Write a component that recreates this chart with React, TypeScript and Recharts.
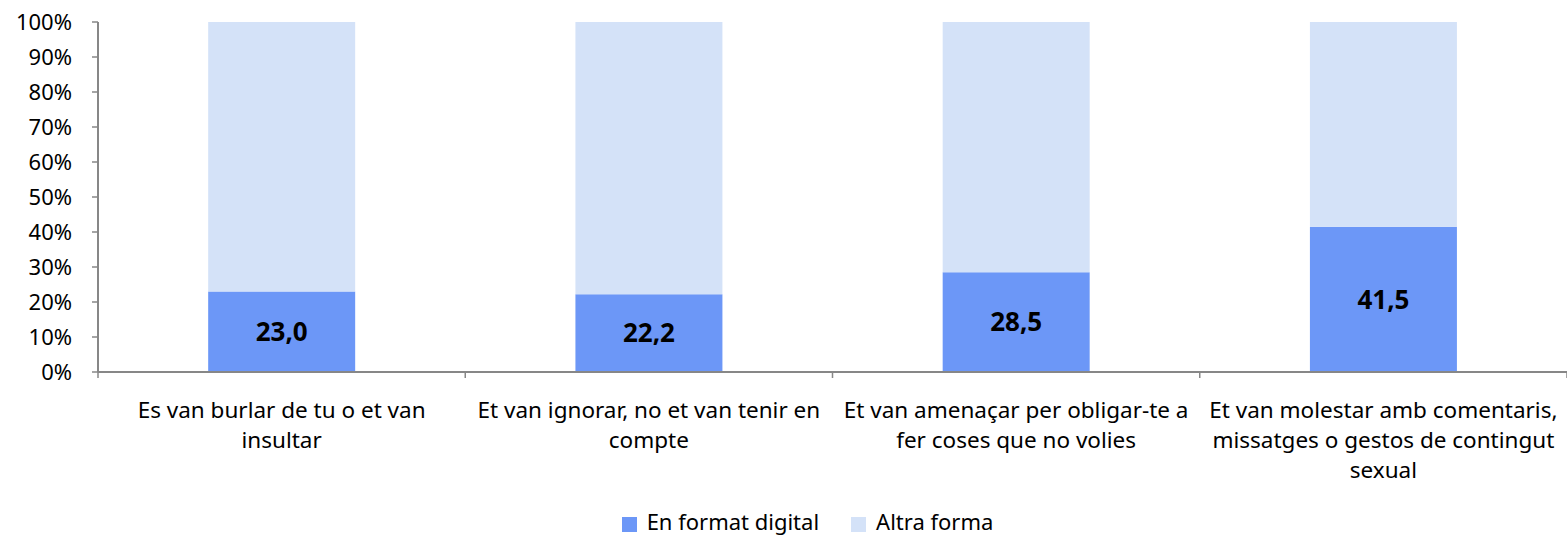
import React from "react";
import { BarChart, Bar, XAxis, YAxis, Legend, LabelList } from "recharts";

// Categories (lines as they wrap in the original)
const categories = [
  ["Es van burlar de tu o et van", "insultar"],
  ["Et van ignorar, no et van tenir en", "compte"],
  ["Et van amenaçar per obligar-te a", "fer coses que no volies"],
  ["Et van molestar amb comentaris,", "missatges o gestos de contingut", "sexual"],
];
const digital = [23.0, 22.2, 28.5, 41.5];
const altra = [77.0, 77.8, 71.5, 58.5];
const seriesNames = ["En format digital", "Altra forma"];
const yTicks = [0, 10, 20, 30, 40, 50, 60, 70, 80, 90, 100];

const data = categories.map((lines, i) => ({
  name: lines.join(" "),
  lines,
  digital: digital[i],
  altra: altra[i],
}));

const FONT = "'Noto Sans', sans-serif";
const AXIS = "#878787";
const WIDTH = 1567;
const HEIGHT = 539;
const MARGIN = { top: 22, right: 0, left: 0, bottom: 0 };
const Y_WIDTH = 98;
const BAND = (WIDTH - Y_WIDTH - MARGIN.right) / categories.length;

const CategoryTick = (props: any) => {
  const { x, y, payload, index } = props;
  const item = data[payload.index ?? index];
  const lines = item ? item.lines : [String(payload.value)];
  return (
    <g>
      {index === 0 && (
        <line x1={x - BAND / 2} y1={y - 8} x2={x - BAND / 2} y2={y - 2} stroke={AXIS} strokeWidth={1.5} />
      )}
      <line x1={x + BAND / 2} y1={y - 8} x2={x + BAND / 2} y2={y - 2} stroke={AXIS} strokeWidth={1.5} />
      <text x={x} y={y + 38} textAnchor="middle" fontFamily={FONT} fontSize={22.5} fill="#000">
        {lines.map((l: string, i: number) => (
          <tspan key={i} x={x} dy={i === 0 ? 0 : 30}>
            {l}
          </tspan>
        ))}
      </text>
    </g>
  );
};

const App = () => {
  return (
    <div style={{ position: "absolute", left: 0, top: 0, background: "#fff" }}>
      <BarChart
        width={WIDTH}
        height={HEIGHT}
        data={data}
        margin={MARGIN}
        barCategoryGap="30%"
      >
        <XAxis
          dataKey="name"
          tick={<CategoryTick />}
          tickLine={false}
          axisLine={{ stroke: AXIS, strokeWidth: 2 }}
          interval={0}
          height={137}
        />
        <YAxis
          domain={[0, 100]}
          ticks={yTicks}
          tickFormatter={(v: number) => `${v}%`}
          width={Y_WIDTH}
          tickSize={6}
          tickMargin={20}
          interval={0}
          axisLine={{ stroke: AXIS, strokeWidth: 2 }}
          tickLine={{ stroke: AXIS, strokeWidth: 1.5 }}
          tick={{ fill: "#000", fontFamily: FONT, fontSize: 22 }}
        />
        <Legend
          verticalAlign="bottom"
          align="center"
          height={30}
          iconType="square"
          iconSize={15}
          itemSorter={(item: any) => seriesNames.indexOf(item.value)}
          wrapperStyle={{ fontFamily: FONT, fontSize: 22, lineHeight: "26px", bottom: 1, paddingLeft: 40 }}
          formatter={(value: string) => (
            <span style={{ color: "#000", marginLeft: 6, marginRight: 22 }}>{value}</span>
          )}
        />
        <Bar dataKey="digital" name={seriesNames[0]} stackId="a" fill="#6C97F7" isAnimationActive={false}>
          <LabelList
            dataKey="digital"
            position="center"
            formatter={(v: number) => v.toFixed(1).replace(".", ",")}
            style={{ fill: "#000", fontFamily: FONT, fontSize: 26, fontWeight: "bold" }}
          />
        </Bar>
        <Bar dataKey="altra" name={seriesNames[1]} stackId="a" fill="#D4E2F8" isAnimationActive={false} />
      </BarChart>
    </div>
  );
};

export default App;
